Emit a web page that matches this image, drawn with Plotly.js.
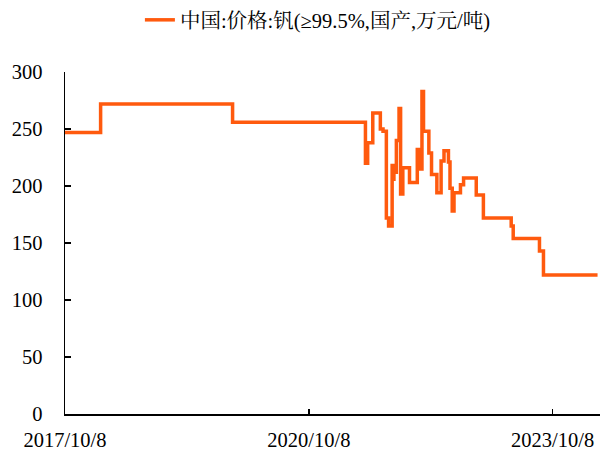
<!DOCTYPE html>
<html>
<head>
<meta charset="utf-8">
<script src="https://cdn.plot.ly/plotly-3.0.1.min.js"></script>
<style>html,body{margin:0;padding:0;background:#fff;}#chart{width:600px;height:456px;}</style>
</head>
<body>
<div id="chart"></div>
<script>
const seriesName = '中国:价格:钒(≥99.5%,国产,万元/吨)';
const dates = [
  '2017-10-08','2018-03-17','2019-10-31','2021-06-19','2021-06-29','2021-07-22',
  '2021-08-25','2021-09-06','2021-09-21','2021-10-01','2021-10-17','2021-10-21',
  '2021-10-25','2021-11-05','2021-11-17','2021-11-24','2021-12-04','2022-01-03',
  '2022-02-07','2022-02-14','2022-02-28','2022-03-07','2022-03-31','2022-04-12',
  '2022-05-06','2022-05-25','2022-06-07','2022-06-27','2022-07-04','2022-07-14',
  '2022-07-22','2022-08-20','2022-09-03','2022-10-30','2022-12-01','2023-04-05',
  '2023-04-14','2023-08-10','2023-08-28','2024-04-27'
];
const prices = [
  247,272,256,220,238,264,
  250,248,172,165,218,206,
  212,240,268,193,216,203,
  232,215,283,248,229,210,
  194,222,231,221,198,178,
  194,201,207,192,172,165,
  154,143,122,122
];
const xTickVals = ['2017-10-08','2020-10-08','2023-10-08'];
const xTickText = ['2017/10/8','2020/10/8','2023/10/8'];
const yTickVals = [0,50,100,150,200,250,300];

const serif = '"Liberation Serif","Times New Roman","Noto Serif CJK SC","Noto Sans CJK SC",serif';

Plotly.newPlot('chart', [{
  x: dates, y: prices, type: 'scatter', mode: 'lines', name: seriesName,
  line: {color: '#FF5A0E', width: 3.5, shape: 'hv'}
}], {
  width: 600, height: 456,
  margin: {l: 65, r: 0, t: 71, b: 42},
  paper_bgcolor: '#fff', plot_bgcolor: '#fff',
  font: {family: serif, size: 20.5, color: '#000'},
  showlegend: true,
  legend: {orientation: 'h', x: 0.14, xanchor: 'left', y: 1.152, yanchor: 'middle',
           font: {family: serif, size: 20.5, color: '#000'}},
  xaxis: {
    type: 'date', range: ['2017-10-08','2024-05-08'],
    tickvals: xTickVals, ticktext: xTickText,
    ticks: 'inside', ticklen: 5, tickcolor: '#000', tickwidth: 1.5,
    showline: true, linecolor: '#000', linewidth: 1.5,
    showgrid: false, zeroline: false, ticklabelstandoff: 7,
    tickfont: {family: serif, size: 20.5, color: '#000'}
  },
  yaxis: {
    range: [0, 300], tickvals: yTickVals,
    ticks: 'inside', ticklen: 6, tickcolor: '#000', tickwidth: 1.5,
    showline: true, linecolor: '#000', linewidth: 1.5,
    showgrid: false, zeroline: false, ticklabelstandoff: 17,
    tickfont: {family: serif, size: 20.5, color: '#000'}
  }
}, {displayModeBar: false, staticPlot: true});
</script>
</body>
</html>
